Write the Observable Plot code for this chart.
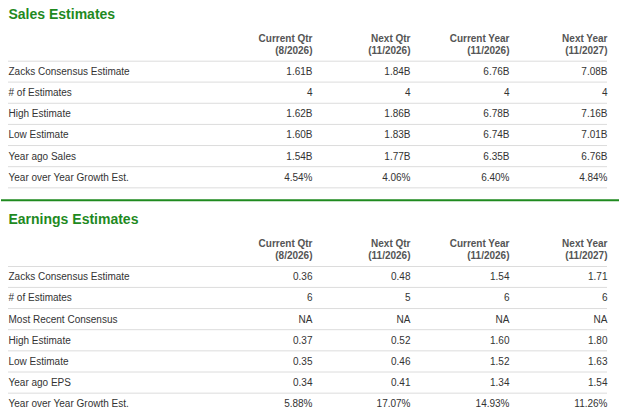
<!DOCTYPE html>
<html>
<head>
<meta charset="utf-8">
<script src="https://cdn.jsdelivr.net/npm/d3@7"></script>
<script src="https://cdn.jsdelivr.net/npm/@observablehq/plot@0.6"></script>
<style>
  html, body { margin: 0; padding: 0; background: #ffffff; }
  #chart svg { display: block; }
</style>
</head>
<body>
<div id="chart"></div>
<script>
// ---- Data ----
const columnNames = ["Current Qtr", "Next Qtr", "Current Year", "Next Year"];
const periods = ["(8/2026)", "(11/2026)", "(11/2026)", "(11/2027)"];

const salesTitle = "Sales Estimates";
const salesRows = ["Zacks Consensus Estimate", "# of Estimates", "High Estimate", "Low Estimate", "Year ago Sales", "Year over Year Growth Est."];
const salesCurrentQtr = ["1.61B", "4", "1.62B", "1.60B", "1.54B", "4.54%"];
const salesNextQtr = ["1.84B", "4", "1.86B", "1.83B", "1.77B", "4.06%"];
const salesCurrentYear = ["6.76B", "4", "6.78B", "6.74B", "6.35B", "6.40%"];
const salesNextYear = ["7.08B", "4", "7.16B", "7.01B", "6.76B", "4.84%"];

const earningsTitle = "Earnings Estimates";
const earningsRows = ["Zacks Consensus Estimate", "# of Estimates", "Most Recent Consensus", "High Estimate", "Low Estimate", "Year ago EPS", "Year over Year Growth Est."];
const earningsCurrentQtr = ["0.36", "6", "NA", "0.37", "0.35", "0.34", "5.88%"];
const earningsNextQtr = ["0.48", "5", "NA", "0.52", "0.46", "0.41", "17.07%"];
const earningsCurrentYear = ["1.54", "6", "NA", "1.60", "1.52", "1.34", "14.93%"];
const earningsNextYear = ["1.71", "6", "NA", "1.80", "1.63", "1.54", "11.26%"];

// ---- Layout (pixel positions, identity scales) ----
const W = 619, H = 413;
const labelX = 8, ruleX1 = 8, ruleX2 = 607;
const colRight = [312, 410, 509, 607];
const rowH = 21.15;

const sections = [
  { top: 0, title: salesTitle, rows: salesRows, cols: [salesCurrentQtr, salesNextQtr, salesCurrentYear, salesNextYear] },
  { top: 205.3, title: earningsTitle, rows: earningsRows, cols: [earningsCurrentQtr, earningsNextQtr, earningsCurrentYear, earningsNextYear] }
];

const titles = [], headers1 = [], headers2 = [], labels = [], values = [], rules = [];
for (const s of sections) {
  titles.push({ x: labelX, y: s.top + 14.2, text: s.title });
  columnNames.forEach((c, j) => {
    headers1.push({ x: colRight[j], y: s.top + 38.3, text: c });
    headers2.push({ x: colRight[j], y: s.top + 50.4, text: periods[j] });
  });
  rules.push({ y: s.top + 60.7 });
  s.rows.forEach((r, i) => {
    const yc = s.top + 71.3 + rowH * i;
    labels.push({ x: labelX, y: yc, text: r });
    s.cols.forEach((col, j) => values.push({ x: colRight[j], y: yc, text: col[i] }));
    rules.push({ y: yc + 10.3 });
  });
}
const greenRule = [{ y: 199.7 }];

const font = "'Liberation Sans', Arial, sans-serif";
const green = "#1f8a1f";

const chart = Plot.plot({
  width: W,
  height: H,
  margin: 0,
  x: { type: "identity", axis: null },
  y: { type: "identity", axis: null },
  style: { fontFamily: font, fontSize: "10px", background: "#ffffff", color: "#333" },
  marks: [
    Plot.ruleY(rules, { y: "y", x1: ruleX1, x2: ruleX2, stroke: "#dcdcdc", strokeWidth: 1 }),
    Plot.ruleY(greenRule, { y: "y", x1: 1, x2: W, stroke: green, strokeWidth: 2 }),
    Plot.text(titles, { x: "x", y: "y", text: "text", textAnchor: "start", fill: green, fontSize: 14, fontWeight: "bold" }),
    Plot.text(headers1, { x: "x", y: "y", text: "text", textAnchor: "end", fill: "#555", fontWeight: "bold" }),
    Plot.text(headers2, { x: "x", y: "y", text: "text", textAnchor: "end", fill: "#555", fontWeight: "bold" }),
    Plot.text(labels, { x: "x", y: "y", text: "text", textAnchor: "start", fill: "#333" }),
    Plot.text(values, { x: "x", y: "y", text: "text", textAnchor: "end", fill: "#333" })
  ]
});
document.getElementById("chart").appendChild(chart);
</script>
</body>
</html>
